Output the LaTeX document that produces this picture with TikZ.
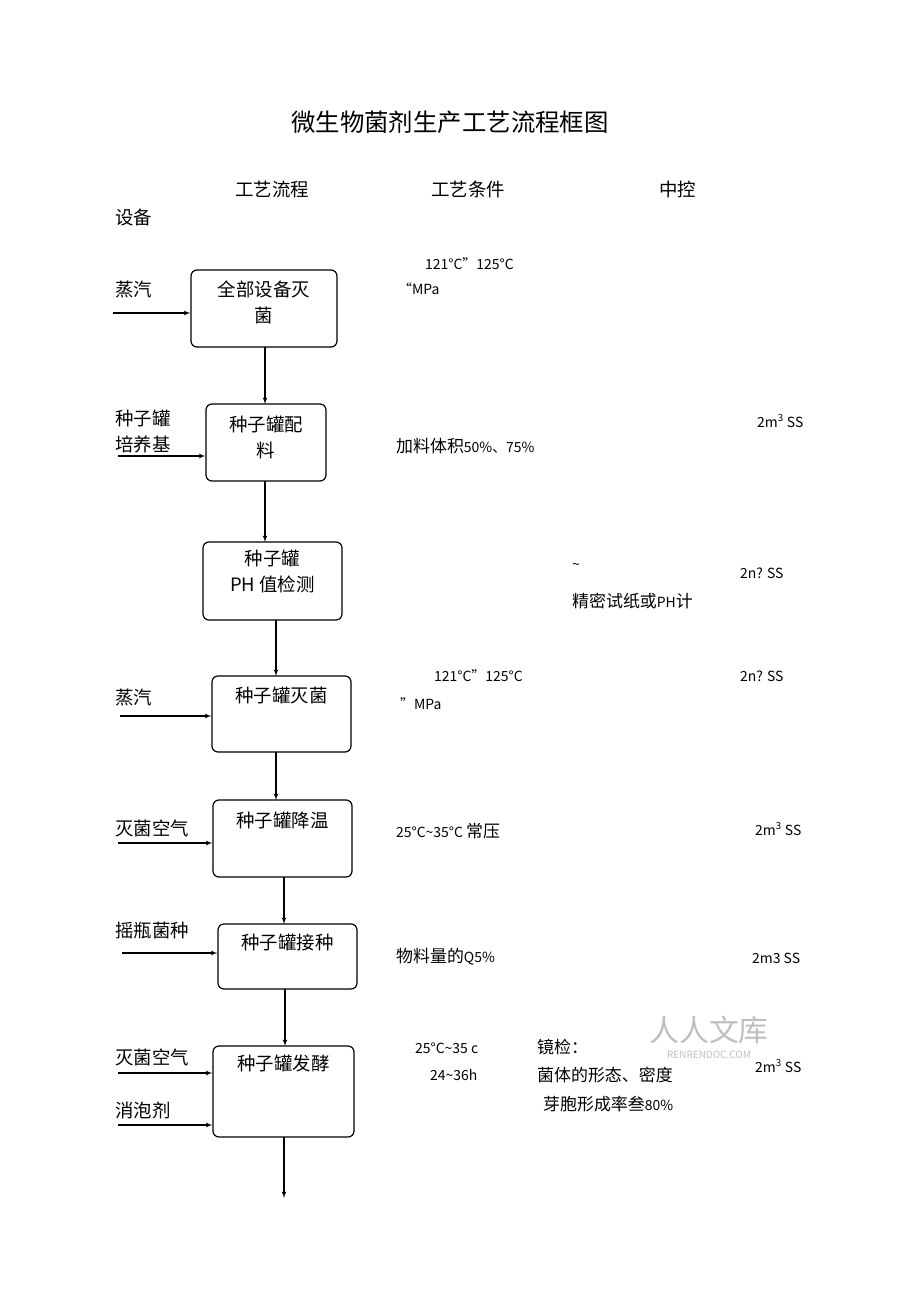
\documentclass[tikz,border=0pt]{standalone}
\usepackage{fontspec}
\setmainfont{Noto Sans CJK SC}
\newfontfamily\cjk{Noto Sans CJK SC}
\usetikzlibrary{arrows}
\begin{document}
\begin{tikzpicture}[x=1bp,y=-1bp,>=latex',line join=bevel,
  procbox/.style={draw,rounded corners=6bp,line width=1.2bp},
  boxtext/.style={anchor=north,align=center,inner sep=0pt,font=\fontsize{18.5}{26}\selectfont},
  lbl/.style={anchor=west,font=\fontsize{18.5}{24}\selectfont},
  cond/.style={anchor=west,inner sep=0pt,font=\fontsize{14}{16}\selectfont},
  flow/.style={->,line width=1.2bp}]
\useasboundingbox (0,0) rectangle (920,1301);
%%
\node at (450,122) {\fontsize{24.5}{28}\selectfont 微生物菌剂生产工艺流程框图};
\node[lbl] at (232,189) {工艺流程};
\node[lbl] at (428,189) {工艺条件};
\node[lbl] at (656,189) {中控};
\node[lbl] at (112,217) {设备};
% Nodes: steps
\node[procbox,minimum width=146bp,minimum height=77bp] (s1) at (264,308.5) {};
\node[procbox,minimum width=120bp,minimum height=77bp] (s2) at (266,442.5) {};
\node[procbox,minimum width=139bp,minimum height=78bp] (s3) at (272.5,581) {};
\node[procbox,minimum width=139bp,minimum height=76bp] (s4) at (281.5,714) {};
\node[procbox,minimum width=139bp,minimum height=77bp] (s5) at (282.5,838.5) {};
\node[procbox,minimum width=139bp,minimum height=65bp] (s6) at (287.5,956.5) {};
\node[procbox,minimum width=141bp,minimum height=91bp] (s7) at (283.5,1091.5) {};
\node[boxtext] (t1) at ([yshift=-11bp]s1.north) {全部设备灭\\菌};
\node[boxtext] (t2) at ([yshift=-12bp]s2.north) {种子罐配\\料};
\node[boxtext] (t3) at ([yshift=-8bp]s3.north) {种子罐\\PH 值检测};
\node[boxtext] (t4) at ([yshift=-11bp]s4.north) {种子罐灭菌};
\node[boxtext] (t5) at ([yshift=-12bp]s5.north) {种子罐降温};
\node[boxtext] (t6) at ([yshift=-10bp]s6.north) {种子罐接种};
\node[boxtext] (t7) at ([yshift=-9bp]s7.north) {种子罐发酵};
\coordinate (e7) at (284,1198);
% Edges: main flow
\draw[flow] (265,347) -- (265,404);
\draw[flow] (265,481) -- (265,542);
\draw[flow] (276,620) -- (276,676);
\draw[flow] (276,752) -- (276,800);
\draw[flow] (284,877) -- (284,924);
\draw[flow] (285,989) -- (285,1046);
\draw[flow] (284,1137) -- (e7);
% Inputs
\node[lbl] at (112,290) {蒸汽};
\coordinate (i1) at (113,313); \draw[flow] (i1) -- (i1 -| s1.west);
\node[lbl] at (112,418) {种子罐};
\node[lbl] at (112,444) {培养基};
\coordinate (i2) at (118,456); \draw[flow] (i2) -- (i2 -| s2.west);
\node[lbl] at (112,698) {蒸汽};
\coordinate (i4) at (120,716); \draw[flow] (i4) -- (i4 -| s4.west);
\node[lbl] at (112,828) {灭菌空气};
\coordinate (i5) at (118,843); \draw[flow] (i5) -- (i5 -| s5.west);
\node[lbl] at (112,930) {摇瓶菌种};
\coordinate (i6) at (122,953); \draw[flow] (i6) -- (i6 -| s6.west);
\node[lbl] at (112,1057) {灭菌空气};
\coordinate (i7) at (118,1073); \draw[flow] (i7) -- (i7 -| s7.west);
\node[lbl] at (112,1110) {消泡剂};
\coordinate (i8) at (118,1125); \draw[flow] (i8) -- (i8 -| s7.west);
% Conditions
\node[cond] at (425,264) {121\textdegree C"125\textdegree C};
\node[cond] at (398,289) {“MPa};
\node[cond] at (757,421) {2m\textsuperscript{3} SS};
\node[cond] at (396,446) {\fontsize{17}{20}\selectfont 加料体积\fontsize{14}{16}\selectfont 50\%、75\%};
\node[cond] at (572,566) {\~{}};
\node[cond] at (740,573) {2n? SS};
\node[cond] at (572,601) {\fontsize{17}{20}\selectfont 精密试纸或\fontsize{14}{16}\selectfont PH\fontsize{17}{20}\selectfont 计};
\node[cond] at (434,676) {121\textdegree C"125\textdegree C};
\node[cond] at (400,704) {"MPa};
\node[cond] at (740,676) {2n? SS};
\node[cond] at (396,831) {25\textdegree C\~{}35\textdegree C {\fontsize{17}{20}\selectfont 常压}};
\node[cond] at (755,829) {2m\textsuperscript{3} SS};
\node[cond] at (396,957) {\fontsize{17}{20}\selectfont 物料量的\fontsize{14}{16}\selectfont Q5\%};
\node[cond] at (752,958) {2m3 SS};
\node[cond] at (415,1048) {25\textdegree C\~{}35 c};
\node[cond] at (430,1075) {24\~{}36h};
\node[cond] at (537,1047) {\fontsize{17}{20}\selectfont 镜检：};
\node[cond] at (537,1075) {\fontsize{17}{20}\selectfont 菌体的形态、密度};
\node[cond] at (543,1104) {\fontsize{17}{20}\selectfont 芽胞形成率叁\fontsize{14}{16}\selectfont 80\%};
\node[cond] at (755,1066) {2m\textsuperscript{3} SS};
% Watermark
\node[text=black!25] at (709,1030) {\fontsize{30}{32}\selectfont 人人文库};
\node[text=black!25] at (709,1055) {\fontsize{10}{11}\selectfont RENRENDOC.COM};
\end{tikzpicture}
\end{document}
